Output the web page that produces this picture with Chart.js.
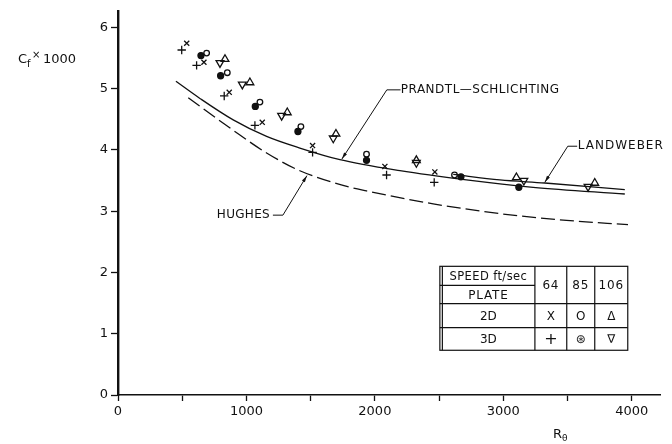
<!DOCTYPE html>
<html>
<head>
<meta charset="utf-8">
<script src="https://cdn.jsdelivr.net/npm/chart.js@4.4.0/dist/chart.umd.min.js"></script>
<style>
  html, body { margin: 0; padding: 0; background: #fff; }
  #wrap { width: 672px; height: 444px; }
</style>
</head>
<body>
<div id="wrap"><canvas id="chart" width="672" height="444"></canvas></div>
<script>
"use strict";

// R_theta and Cf x 1000
const s64plate2dX = [535, 669, 866, 1123, 1515, 2078, 2467];
const s64plate2dY = [5.74, 5.43, 4.94, 4.45, 4.07, 3.73, 3.64];
const s64plate3dX = [496, 612, 827, 1066, 1515, 2091, 2462];
const s64plate3dY = [5.63, 5.38, 4.88, 4.40, 3.96, 3.59, 3.47];
const s85plate2dX = [690, 851, 1105, 1424, 1935, 2620];
const s85plate2dY = [5.58, 5.26, 4.78, 4.38, 3.93, 3.59];
const s85plate3dX = [646, 799, 1069, 1401, 1935, 2670, 3121];
const s85plate3dY = [5.54, 5.21, 4.71, 4.30, 3.83, 3.56, 3.39];
const s106plate2dX = [833, 1027, 1318, 1697, 2323, 3102, 3712];
const s106plate2dY = [5.48, 5.10, 4.61, 4.26, 3.83, 3.55, 3.46];
const s106plate3dX = [794, 968, 1274, 1676, 2323, 3160, 3660];
const s106plate3dY = [5.42, 5.07, 4.56, 4.19, 3.79, 3.50, 3.40];

// reference curves
const prandtlX = [451, 638, 897, 1157, 1416, 1728, 2195, 2713, 3232, 3946];
const prandtlY = [5.12, 4.84, 4.49, 4.22, 4.03, 3.84, 3.66, 3.51, 3.39, 3.28];
const landweberX = [2610, 2973, 3323, 3946];
const landweberY = [3.60, 3.51, 3.46, 3.35];
const hughesX = [547, 897, 1157, 1416, 1805, 1935, 2454, 2973, 3492, 3971];
const hughesY = [4.85, 4.32, 3.95, 3.66, 3.39, 3.33, 3.12, 2.96, 2.85, 2.78];

// legend table
const tableHeader = ["SPEED ft/sec", "PLATE"];
const tableSpeeds = ["64", "85", "106"];
const tablePlates = ["2D", "3D"];
const tableSymbols = [["X", "O", "\u0394"], ["+", "\u229B", "\u2207"]];

// axis ticks
const xTickValues = [0, 500, 1000, 1500, 2000, 2500, 3000, 3500, 4000];
const xTicksLabelled = [0, 1000, 2000, 3000, 4000];
const yTickValues = [0, 1, 2, 3, 4, 5, 6];

const FONT = "'DejaVu Sans', Verdana, sans-serif";
const INK = "#111";

const pts = (xs, ys) => xs.map((x, i) => ({ x, y: ys[i] }));

function curve(xs, ys, dash) {
  return {
    data: pts(xs, ys),
    showLine: true,
    borderColor: INK,
    borderWidth: 1.3,
    borderDash: dash || [],
    pointRadius: 0,
    cubicInterpolationMode: "monotone",
    fill: false,
  };
}

function marks(xs, ys, style, opts) {
  return Object.assign({
    data: pts(xs, ys),
    showLine: false,
    pointStyle: style,
    pointRadius: 3.5,
    pointBorderWidth: 1.3,
    pointBorderColor: INK,
    pointBackgroundColor: "rgba(0,0,0,0)",
  }, opts || {});
}

// text, leader lines and the symbol table, all placed in data units
function arrowTo(ctx, x0, y0, x1, y1) {
  ctx.beginPath();
  ctx.moveTo(x0, y0);
  ctx.lineTo(x1, y1);
  ctx.stroke();
  const a = Math.atan2(y1 - y0, x1 - x0);
  ctx.beginPath();
  ctx.moveTo(x1, y1);
  ctx.lineTo(x1 - 7 * Math.cos(a - 0.25), y1 - 7 * Math.sin(a - 0.25));
  ctx.lineTo(x1 - 7 * Math.cos(a + 0.25), y1 - 7 * Math.sin(a + 0.25));
  ctx.closePath();
  ctx.fill();
}

const annotate = {
  id: "annotate",
  afterDraw(chart) {
    const { ctx } = chart;
    const sx = chart.scales.x, sy = chart.scales.y;
    const px = (v) => sx.getPixelForValue(v);
    const py = (v) => sy.getPixelForValue(v);

    ctx.save();
    ctx.fillStyle = INK;
    ctx.strokeStyle = INK;
    ctx.lineWidth = 1;

    // y axis title: Cf x 1000
    ctx.textBaseline = "alphabetic";
    ctx.textAlign = "left";
    ctx.font = "13px " + FONT;
    ctx.fillText("C", 18, 63);
    ctx.font = "10px " + FONT;
    ctx.fillText("f", 27, 67);
    ctx.fillText("\u00D7", 32, 58);
    ctx.font = "13px " + FONT;
    ctx.fillText("1000", 43, 63);

    // x axis title: R theta
    ctx.font = "13px " + FONT;
    ctx.fillText("R", 553, 438);
    ctx.font = "9px " + FONT;
    ctx.fillText("\u03B8", 562, 441);

    // curve labels
    ctx.font = "12px " + FONT;
    ctx.letterSpacing = "0.5px";
    ctx.textBaseline = "middle";

    ctx.fillText("PRANDTL\u2014SCHLICHTING", px(2202), py(4.98));
    ctx.beginPath();
    ctx.moveTo(px(2200), py(4.98));
    ctx.lineTo(px(2093), py(4.98));
    ctx.stroke();
    arrowTo(ctx, px(2093), py(4.98), px(1743), py(3.85));

    ctx.letterSpacing = "1px";
    ctx.fillText("LANDWEBER", px(3580), py(4.06));
    ctx.beginPath();
    ctx.moveTo(px(3575), py(4.06));
    ctx.lineTo(px(3502), py(4.06));
    ctx.stroke();
    arrowTo(ctx, px(3502), py(4.06), px(3323), py(3.47));

    ctx.letterSpacing = "0.3px";
    ctx.textAlign = "right";
    ctx.fillText("HUGHES", px(1183), py(2.935));
    ctx.beginPath();
    ctx.moveTo(px(1206), py(2.935));
    ctx.lineTo(px(1284), py(2.935));
    ctx.stroke();
    arrowTo(ctx, px(1284), py(2.935), px(1471), py(3.58));

    // symbol table
    const colX = [2506, 3246, 3494, 3712, 3969].map(px);
    const rowY = [2.10, 1.79, 1.49, 1.10, 0.73].map(py);
    ctx.letterSpacing = "0px";
    ctx.lineWidth = 1.2;
    ctx.strokeRect(colX[0], rowY[0], colX[4] - colX[0], rowY[4] - rowY[0]);
    ctx.beginPath();
    ctx.moveTo(colX[0] + 2.5, rowY[0]);
    ctx.lineTo(colX[0] + 2.5, rowY[4]);
    for (let c = 1; c < 4; c++) {
      ctx.moveTo(colX[c], rowY[0]);
      ctx.lineTo(colX[c], rowY[4]);
    }
    ctx.moveTo(colX[0], rowY[1]);
    ctx.lineTo(colX[1], rowY[1]);
    for (let r = 2; r < 4; r++) {
      ctx.moveTo(colX[0], rowY[r]);
      ctx.lineTo(colX[4], rowY[r]);
    }
    ctx.stroke();

    ctx.textAlign = "center";
    const c0 = (colX[0] + colX[1]) / 2 + 1;
    ctx.font = "11.5px " + FONT;
    ctx.letterSpacing = "0.4px";
    ctx.fillText(tableHeader[0], c0, (rowY[0] + rowY[1]) / 2 + 1);
    ctx.font = "12px " + FONT;
    ctx.letterSpacing = "0.8px";
    ctx.fillText(tableHeader[1], c0, (rowY[1] + rowY[2]) / 2 + 1);
    tableSpeeds.forEach((s, i) => {
      ctx.fillText(s, (colX[i + 1] + colX[i + 2]) / 2, (rowY[0] + rowY[2]) / 2 + 1);
    });
    ctx.letterSpacing = "0px";
    tablePlates.forEach((p, r) => {
      const yc = (rowY[r + 2] + rowY[r + 3]) / 2 + 1;
      ctx.font = "12px " + FONT;
      ctx.fillText(p, c0, yc);
      tableSymbols[r].forEach((sym, i) => {
        ctx.font = (sym === "+" ? "16px " : "12px ") + FONT;
        ctx.fillText(sym, (colX[i + 1] + colX[i + 2]) / 2, yc);
      });
    });

    ctx.restore();
  },
};

const axisFont = { family: FONT, size: 13 };

new Chart(document.getElementById("chart"), {
  type: "scatter",
  data: {
    datasets: [
      curve(prandtlX, prandtlY),
      curve(landweberX, landweberY),
      curve(hughesX, hughesY, [14, 5]),
      marks(s64plate2dX, s64plate2dY, "crossRot", { pointRadius: 3.6 }),
      marks(s64plate3dX, s64plate3dY, "cross", { pointRadius: 4.2 }),
      marks(s85plate2dX, s85plate2dY, "circle", { pointRadius: 2.8 }),
      marks(s85plate3dX, s85plate3dY, "circle", { pointRadius: 3, pointBackgroundColor: INK }),
      marks(s106plate2dX, s106plate2dY, "triangle", { pointRadius: 4.5 }),
      marks(s106plate3dX, s106plate3dY, "triangle", { pointRadius: 4.5, pointRotation: 180 }),
    ],
  },
  options: {
    responsive: false,
    animation: false,
    events: [],
    layout: { padding: { top: 6, right: 12, left: 0, bottom: 0 } },
    plugins: { legend: { display: false }, tooltip: { enabled: false } },
    scales: {
      x: {
        type: "linear",
        min: 0,
        max: 4220,
        afterFit: (s) => { s.height = 49; },
        afterBuildTicks: (s) => { s.ticks = xTickValues.map((v) => ({ value: v })); },
        ticks: {
          autoSkip: false,
          maxRotation: 0,
          padding: 3,
          color: INK,
          font: axisFont,
          callback: (v) => (xTicksLabelled.includes(v) ? String(v) : ""),
        },
        grid: { drawOnChartArea: false, drawTicks: true, tickLength: 6, tickWidth: 1.3, color: INK },
        border: { display: true, color: INK, width: 1.6 },
      },
      y: {
        min: 0,
        max: 6.27,
        afterFit: (s) => { s.width = 118; },
        afterBuildTicks: (s) => { s.ticks = yTickValues.map((v) => ({ value: v })); },
        ticks: { autoSkip: false, padding: 3, color: INK, font: axisFont },
        grid: { drawOnChartArea: false, drawTicks: true, tickLength: 7, tickWidth: 1.3, color: INK },
        border: { display: true, color: INK, width: 2.4 },
      },
    },
  },
  plugins: [annotate],
});
</script>
</body>
</html>
